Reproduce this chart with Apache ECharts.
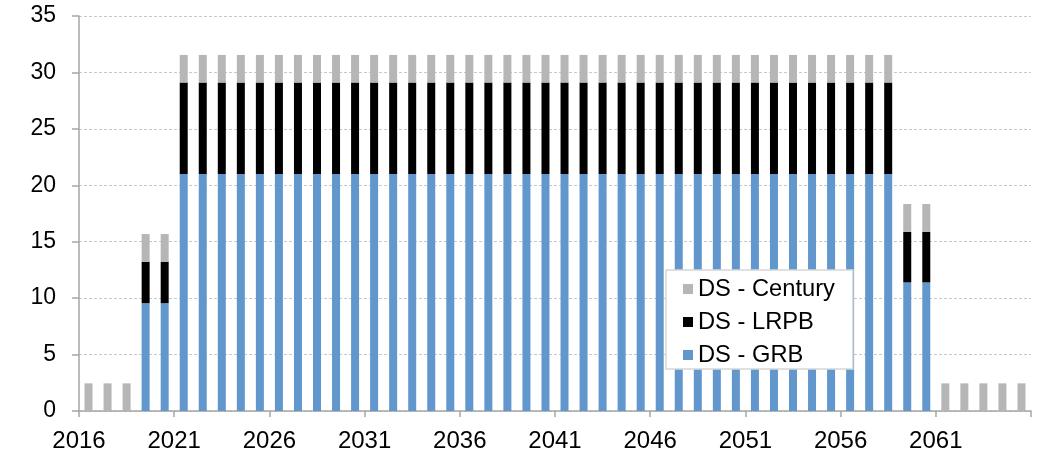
<!DOCTYPE html>
<html>
<head>
<meta charset="utf-8">
<script src="https://cdn.jsdelivr.net/npm/echarts@6/dist/echarts.min.js"></script>
<style>
  html, body { margin: 0; padding: 0; background: #fff; }
  #chart { width: 1050px; height: 468px; }
</style>
</head>
<body>
<div id="chart"></div>
<script>
// years on the category axis
const years = [
  '2016', '2017', '2018', '2019', '2020', '2021', '2022', '2023', '2024', '2025',
  '2026', '2027', '2028', '2029', '2030', '2031', '2032', '2033', '2034', '2035',
  '2036', '2037', '2038', '2039', '2040', '2041', '2042', '2043', '2044', '2045',
  '2046', '2047', '2048', '2049', '2050', '2051', '2052', '2053', '2054', '2055',
  '2056', '2057', '2058', '2059', '2060', '2061', '2062', '2063', '2064', '2065'
]
// tick labels sit on every 5th category boundary
const xTickLabels = ['2016', '2021', '2026', '2031', '2036', '2041', '2046', '2051', '2056', '2061']

const grb = [
  0, 0, 0, 9.55, 9.55, 21, 21, 21, 21, 21,
  21, 21, 21, 21, 21, 21, 21, 21, 21, 21,
  21, 21, 21, 21, 21, 21, 21, 21, 21, 21,
  21, 21, 21, 21, 21, 21, 21, 21, 21, 21,
  21, 21, 21, 11.4, 11.4, 0, 0, 0, 0, 0
]
const lrpb = [
  0, 0, 0, 3.68, 3.68, 8.1, 8.1, 8.1, 8.1, 8.1,
  8.1, 8.1, 8.1, 8.1, 8.1, 8.1, 8.1, 8.1, 8.1, 8.1,
  8.1, 8.1, 8.1, 8.1, 8.1, 8.1, 8.1, 8.1, 8.1, 8.1,
  8.1, 8.1, 8.1, 8.1, 8.1, 8.1, 8.1, 8.1, 8.1, 8.1,
  8.1, 8.1, 8.1, 4.48, 4.48, 0, 0, 0, 0, 0
]
const century = [
  2.45, 2.45, 2.45, 2.45, 2.45, 2.45, 2.45, 2.45, 2.45, 2.45,
  2.45, 2.45, 2.45, 2.45, 2.45, 2.45, 2.45, 2.45, 2.45, 2.45,
  2.45, 2.45, 2.45, 2.45, 2.45, 2.45, 2.45, 2.45, 2.45, 2.45,
  2.45, 2.45, 2.45, 2.45, 2.45, 2.45, 2.45, 2.45, 2.45, 2.45,
  2.45, 2.45, 2.45, 2.46, 2.46, 2.45, 2.45, 2.45, 2.45, 2.45
]

const font = 'Liberation Sans, Arial, sans-serif'
const axisGrey = '#a6a6a6'

const chart = echarts.init(document.getElementById('chart'), null, { renderer: 'canvas' })

const option = {
  animation: false,
  textStyle: { fontFamily: font },
  grid: {
    left: 79,
    right: 19,
    top: 16,
    bottom: 57,
    containLabel: false
  },
  legend: {
    orient: 'vertical',
    left: 666,
    top: 270,
    data: ['DS - Century', 'DS - LRPB', 'DS - GRB'],
    itemWidth: 10,
    itemHeight: 10,
    itemGap: 9,
    padding: [7, 18, 2, 17],
    backgroundColor: '#fff',
    borderColor: '#d6d6d6',
    borderWidth: 1.5,
    icon: 'rect',
    textStyle: { fontSize: 23.7, color: '#000', fontFamily: font }
  },
  xAxis: [
    {
      type: 'category',
      data: years,
      position: 'bottom',
      boundaryGap: true,
      axisLine: { show: true, lineStyle: { color: axisGrey, width: 1.5 } },
      axisTick: { show: false },
      axisLabel: { show: false },
      splitLine: { show: false }
    },
    {
      // overlay axis: ticks and labels on category boundaries
      type: 'value',
      position: 'bottom',
      min: 0,
      max: years.length,
      interval: 5,
      axisLine: { show: false },
      axisTick: { show: true, length: 6, lineStyle: { color: axisGrey, width: 1.5 } },
      axisLabel: {
        fontSize: 24,
        color: '#000',
        margin: 18,
        fontFamily: font,
        formatter: v => xTickLabels[v / 5] || ''
      },
      splitLine: { show: false }
    }
  ],
  yAxis: {
    type: 'value',
    min: 0,
    max: 35,
    interval: 5,
    axisLine: { show: true, lineStyle: { color: axisGrey, width: 1.5 } },
    axisTick: { show: true, length: 7, lineStyle: { color: axisGrey, width: 1.5 } },
    axisLabel: { fontSize: 23, color: '#000', margin: 23, fontFamily: font },
    splitLine: { show: true, lineStyle: { color: '#c8c8c8', type: [3, 2], width: 1 } }
  },
  series: [
    {
      name: 'DS - GRB',
      type: 'bar',
      stack: 'ds',
      xAxisIndex: 0,
      barWidth: 8,
      itemStyle: { color: '#6197cd' },
      data: grb
    },
    {
      name: 'DS - LRPB',
      type: 'bar',
      stack: 'ds',
      xAxisIndex: 0,
      barWidth: 8,
      itemStyle: { color: '#000000' },
      data: lrpb
    },
    {
      name: 'DS - Century',
      type: 'bar',
      stack: 'ds',
      xAxisIndex: 0,
      barWidth: 8,
      itemStyle: { color: '#b6b6b6' },
      data: century
    }
  ]
}

chart.setOption(option)
</script>
</body>
</html>
